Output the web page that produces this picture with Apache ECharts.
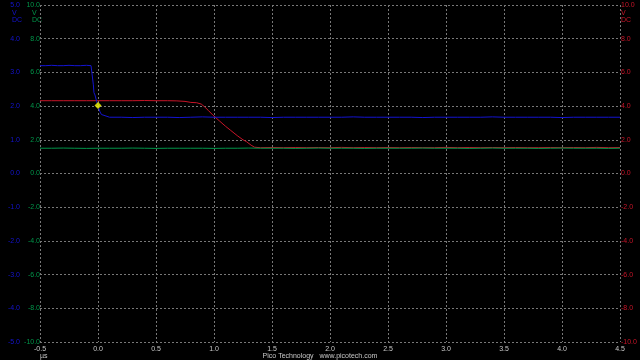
<!DOCTYPE html>
<html><head><meta charset="utf-8">
<script src="https://cdn.jsdelivr.net/npm/echarts@6/dist/echarts.min.js"></script>
<style>html,body{margin:0;padding:0;background:#000}#c{width:640px;height:360px}</style>
</head><body><div id="c"></div>
<script>
// Time axis (µs)
const xTicks = ["-0.5","0.0","0.5","1.0","1.5","2.0","2.5","3.0","3.5","4.0","4.5"];

// Channel A (blue, left axis ±5 V)
const blueT = [-0.5,-0.45,-0.4,-0.35,-0.3,-0.25,-0.2,-0.15,-0.1,-0.06,-0.045,-0.04,-0.035,-0.026,-0.011,0.0,0.017,0.03,0.046,
  0.1,0.2,0.3,0.4,0.5,0.6,0.7,0.8,0.9,1.0,1.1,1.2,1.3,1.4,1.5,1.6,1.7,1.8,1.9,2.0,2.1,2.2,2.3,2.4,2.5,2.6,2.7,2.8,2.9,3.0,3.1,3.2,3.3,3.4,3.5,3.6,3.7,3.8,3.9,4.0,4.1,4.2,4.3,4.4,4.5];
const blueV = [3.20,3.20,3.21,3.20,3.20,3.21,3.20,3.20,3.21,3.20,3.20,2.63,2.40,2.33,2.13,2.02,1.83,1.75,1.70,
  1.67,1.67,1.66,1.67,1.67,1.67,1.66,1.67,1.68,1.67,1.67,1.67,1.67,1.67,1.66,1.67,1.67,1.67,1.67,1.67,1.67,1.68,1.67,1.67,1.67,1.67,1.67,1.66,1.67,1.67,1.67,1.67,1.67,1.68,1.67,1.67,1.67,1.67,1.67,1.66,1.67,1.67,1.67,1.67,1.67];

// Channel B (green, inner left axis ±10 V)
const greenT = [-0.5,-0.4,-0.3,-0.2,-0.1,0.0,0.1,0.2,0.3,0.4,0.5,0.6,0.7,0.8,0.9,1.0,1.1,1.2,1.3,1.4,1.5,1.6,1.7,1.8,1.9,2.0,2.1,2.2,2.3,2.4,2.5,2.6,2.7,2.8,2.9,3.0,3.1,3.2,3.3,3.4,3.5,3.6,3.7,3.8,3.9,4.0,4.1,4.2,4.3,4.4,4.5];
const greenV = [1.50,1.50,1.51,1.50,1.49,1.50,1.50,1.50,1.51,1.50,1.49,1.50,1.50,1.50,1.50,1.49,1.50,1.50,1.51,1.50,1.50,1.50,1.49,1.50,1.51,1.50,1.50,1.50,1.49,1.50,1.50,1.50,1.50,1.51,1.50,1.50,1.50,1.49,1.50,1.51,1.50,1.50,1.50,1.49,1.50,1.51,1.50,1.50,1.50,1.49,1.50];

// Channel C (red, right axis ±10 V)
const redT = [-0.5,-0.4,-0.3,-0.2,-0.1,0.0,0.1,0.2,0.3,0.4,0.5,0.6,0.68,0.75,0.8,0.85,0.89,0.92,0.95,0.99,1.05,1.1,1.14,1.2,1.25,1.28,1.32,1.35,1.4,
  1.5,1.6,1.7,1.8,1.9,2.0,2.1,2.2,2.3,2.4,2.5,2.6,2.7,2.8,2.9,3.0,3.1,3.2,3.3,3.4,3.5,3.6,3.7,3.8,3.9,4.0,4.1,4.2,4.3,4.4,4.5];
const redV = [4.32,4.32,4.32,4.32,4.32,4.32,4.32,4.32,4.32,4.33,4.32,4.32,4.31,4.28,4.22,4.20,4.12,3.95,3.75,3.47,3.10,2.80,2.58,2.25,2.00,1.89,1.68,1.56,1.53,
  1.54,1.53,1.54,1.53,1.54,1.53,1.55,1.53,1.54,1.53,1.54,1.53,1.54,1.53,1.53,1.55,1.53,1.54,1.53,1.54,1.53,1.54,1.53,1.53,1.54,1.53,1.54,1.53,1.55,1.53,1.54];

// Trigger marker
const trigT = [0.0];
const trigV = [2.02];

const zip = (a,b)=>a.map((t,i)=>[t,b[i]]);
const BLUE='#1414d2', GREEN='#00964a', RED='#c81428';
const FONT='"Liberation Sans", Arial, sans-serif';
const grid = {type:[2,2], color:'#787878', width:1};

const chart = echarts.init(document.getElementById('c'), null, {renderer:'canvas'});
chart.setOption({
  backgroundColor:'#000',
  animation:false,
  grid:{left:40,right:20,top:5,bottom:18},
  xAxis:{type:'value',min:-0.5,max:4.5,interval:0.5,
    axisLine:{show:false},axisTick:{show:false},
    axisLabel:{color:'#c8c8c8',fontSize:7,fontFamily:FONT,margin:4,formatter:(v)=>xTicks[Math.round((v+0.5)/0.5)]},
    splitLine:{show:true,lineStyle:grid}},
  yAxis:[
    {type:'value',min:-5,max:5,interval:1,position:'left',offset:20,
      axisLine:{show:false},axisTick:{show:false},
      axisLabel:{color:BLUE,fontSize:7,fontFamily:FONT,margin:0,formatter:v=>v.toFixed(1)},
      splitLine:{show:true,lineStyle:grid}},
    {type:'value',min:-10,max:10,interval:2,position:'left',offset:0,
      axisLine:{show:false},axisTick:{show:false},
      axisLabel:{color:GREEN,fontSize:7,fontFamily:FONT,margin:0,formatter:v=>v.toFixed(1)},
      splitLine:{show:false}},
    {type:'value',min:-10,max:10,interval:2,position:'right',offset:0,
      axisLine:{show:false},axisTick:{show:false},
      axisLabel:{color:RED,fontSize:7,fontFamily:FONT,margin:1,formatter:v=>v.toFixed(1)},
      splitLine:{show:false}}
  ],
  series:[
    {type:'line',yAxisIndex:2,data:zip(redT,redV),showSymbol:false,lineStyle:{color:RED,width:1},z:2},
    {type:'line',yAxisIndex:1,data:zip(greenT,greenV),showSymbol:false,lineStyle:{color:GREEN,width:1},z:3},
    {type:'line',yAxisIndex:0,data:zip(blueT,blueV),showSymbol:false,lineStyle:{color:BLUE,width:1},z:4},
    {type:'scatter',yAxisIndex:0,data:zip(trigT,trigV),symbol:'diamond',symbolSize:7,itemStyle:{color:'#ffff00'},z:5}
  ],
  graphic:[
    {type:'text',left:12,top:10,style:{text:'V',fill:BLUE,font:'7px '+FONT}},
    {type:'text',left:12,top:17,style:{text:'DC',fill:BLUE,font:'7px '+FONT}},
    {type:'text',left:32,top:10,style:{text:'V',fill:GREEN,font:'7px '+FONT}},
    {type:'text',left:32,top:17,style:{text:'DC',fill:GREEN,font:'7px '+FONT}},
    {type:'text',left:621,top:10,style:{text:'V',fill:RED,font:'7px '+FONT}},
    {type:'text',left:621,top:17,style:{text:'DC',fill:RED,font:'7px '+FONT}},
    {type:'text',left:40,top:353,style:{text:'µs',fill:'#c8c8c8',font:'7px '+FONT}},
    {type:'text',left:'center',top:353,style:{text:'Pico Technology   www.picotech.com',fill:'#c8c8c8',font:'7px '+FONT}}
  ]
});
</script></body></html>
